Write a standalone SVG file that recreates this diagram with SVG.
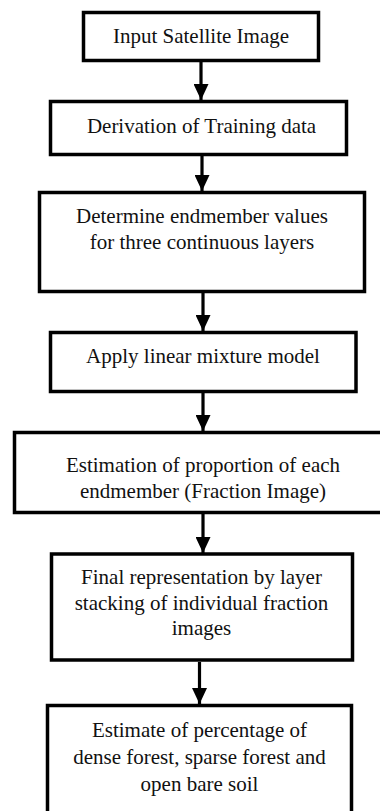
<svg xmlns="http://www.w3.org/2000/svg" width="380" height="811" viewBox="0 0 380 811">
  <style>
    .box { fill: #ffffff; stroke: #000000; stroke-width: 3.5; }
    .link { stroke: #000000; stroke-width: 3.2; fill: none; }
  </style>
  <defs>
    <marker id="head" markerUnits="userSpaceOnUse" markerWidth="17" markerHeight="15" refX="16" refY="7.5" orient="auto">
      <path d="M0,0 L16,7.5 L0,15 Z" fill="#000000"/>
    </marker>
  </defs>
  <rect width="380" height="811" fill="#ffffff"/>

  <g id="connectors">
    <path class="link" d="M201,62 L201,100" marker-end="url(#head)"/>
    <path class="link" d="M202,156 L202,191" marker-end="url(#head)"/>
    <path class="link" d="M203,293 L203,331" marker-end="url(#head)"/>
    <path class="link" d="M203,393 L203,431" marker-end="url(#head)"/>
    <path class="link" d="M203,514 L203,553" marker-end="url(#head)"/>
    <path class="link" d="M199.5,662 L199.5,704" marker-end="url(#head)"/>
  </g>

  <g id="input">
    <rect class="box" x="83.5" y="12.5" width="235" height="48"/>
    <text font-family="Liberation Serif" font-size="21" text-anchor="middle" fill="#111" x="201" y="42.5">Input Satellite Image</text>
  </g>

  <g id="training">
    <rect class="box" x="50.5" y="101.5" width="296" height="53"/>
    <text font-family="Liberation Serif" font-size="21" text-anchor="middle" fill="#111" x="201.5" y="133">Derivation of Training data</text>
  </g>

  <g id="endmember">
    <rect class="box" x="39.5" y="192.5" width="325" height="99"/>
    <text font-family="Liberation Serif" font-size="21" text-anchor="middle" fill="#111" x="202" y="223">Determine endmember values</text>
    <text font-family="Liberation Serif" font-size="21" text-anchor="middle" fill="#111" x="202" y="248.5">for three continuous layers</text>
  </g>

  <g id="mixture">
    <rect class="box" x="50.5" y="332.5" width="305.5" height="59"/>
    <text font-family="Liberation Serif" font-size="21" text-anchor="middle" fill="#111" x="203" y="363">Apply linear mixture model</text>
  </g>

  <g id="fraction">
    <rect class="box" x="14.5" y="432.5" width="370" height="80"/>
    <text font-family="Liberation Serif" font-size="21" text-anchor="middle" fill="#111" x="203" y="472">Estimation of proportion of each</text>
    <text font-family="Liberation Serif" font-size="21" text-anchor="middle" fill="#111" x="203" y="498">endmember (Fraction Image)</text>
  </g>

  <g id="stacking">
    <rect class="box" x="51.5" y="554" width="301" height="106"/>
    <text font-family="Liberation Serif" font-size="21" text-anchor="middle" fill="#111" x="201.5" y="584">Final representation by layer</text>
    <text font-family="Liberation Serif" font-size="21" text-anchor="middle" fill="#111" x="201.5" y="610">stacking of individual fraction</text>
    <text font-family="Liberation Serif" font-size="21" text-anchor="middle" fill="#111" x="201.5" y="635">images</text>
  </g>

  <g id="estimate">
    <rect class="box" x="47.5" y="705.5" width="304" height="108"/>
    <text font-family="Liberation Serif" font-size="21" text-anchor="middle" fill="#111" x="199.5" y="737">Estimate of percentage of</text>
    <text font-family="Liberation Serif" font-size="21" text-anchor="middle" fill="#111" x="199.5" y="764">dense forest, sparse forest and</text>
    <text font-family="Liberation Serif" font-size="21" text-anchor="middle" fill="#111" x="199.5" y="791">open bare soil</text>
  </g>
</svg>
